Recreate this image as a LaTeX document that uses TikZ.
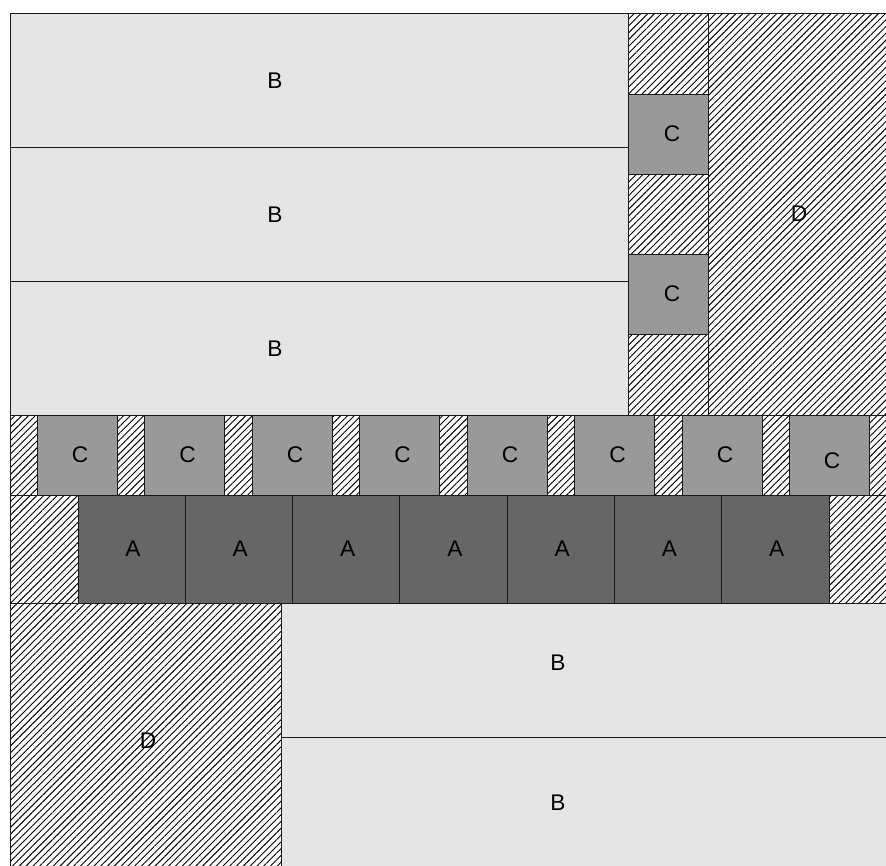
\documentclass[tikz,border=0pt]{standalone}
\usepackage{fontspec}
\setmainfont{Liberation Sans}
\usepackage{xcolor}
\definecolor{paleGray}{HTML}{E5E5E5}
\definecolor{midGray}{HTML}{999999}
\definecolor{darkGray}{HTML}{666666}
\usepackage{tikz}
\usetikzlibrary{patterns.meta}

\begin{document}
\begin{tikzpicture}[
    x=0.75pt, y=-0.75pt,
    cell/.style  ={draw=black!90, line width=0.75pt},
    bcell/.style ={cell, fill=paleGray},
    ccell/.style ={cell, fill=midGray},
    acell/.style ={cell, fill=darkGray},
    hatch/.style ={cell, preaction={fill=white},
                   pattern={Lines[angle=45, distance=3.6pt, line width=0.7pt]},
                   pattern color=black},
    tag/.style   ={font=\fontsize{17}{20}\selectfont, inner sep=0pt}
]
\useasboundingbox (0,0) rectangle (886,865);
\clip (0,0) rectangle (886,865);

% hatched strips
\draw[hatch] (628,13) rectangle (708,415);
\draw[hatch] (708,13) rectangle (893,415);
\draw[hatch] (10,415) rectangle (893,495);
\draw[hatch] (10,495) rectangle (893,603);
\draw[hatch] (10,603) rectangle (281,872);

% upper B rows
\foreach \y/\i in {13/1, 147/2, 281/3}
  \draw[bcell] (10,\y) rectangle (628,\y+134);
\node[tag] (bTop1) at (275,81)  {B};
\node[tag] (bTop2) at (275,215) {B};
\node[tag] (bTop3) at (275,349) {B};

% side column of C
\draw[ccell] (628,94)  rectangle (708,174);
\draw[ccell] (628,254) rectangle (708,334);
\node[tag] (cSide1) at (672,134) {C};
\node[tag] (cSide2) at (672,294) {C};
\node[tag] (dRight) at (799,214) {D};

% row of C
\foreach \k in {0,...,7}
  \draw[ccell] (37+107.5*\k,415) rectangle (117+107.5*\k,495);
\foreach \k in {0,...,6}
  \node[tag] (cRow\k) at (80+107.5*\k,455) {C};
\node[tag] (cRow7) at (832,461) {C};

% row of A
\foreach \k in {0,...,6} {
  \draw[acell] (78+107.3*\k,495) rectangle (185.3+107.3*\k,603);
  \node[tag] (aRow\k) at (133+107.3*\k,549) {A};
}

% lower B rows and D
\draw[bcell] (281,603) rectangle (893,737);
\draw[bcell] (281,737) rectangle (893,872);
\node[tag] (bLow1) at (558,663) {B};
\node[tag] (bLow2) at (558,803) {B};
\node[tag] (dLeft) at (148,741) {D};
\end{tikzpicture}
\end{document}
